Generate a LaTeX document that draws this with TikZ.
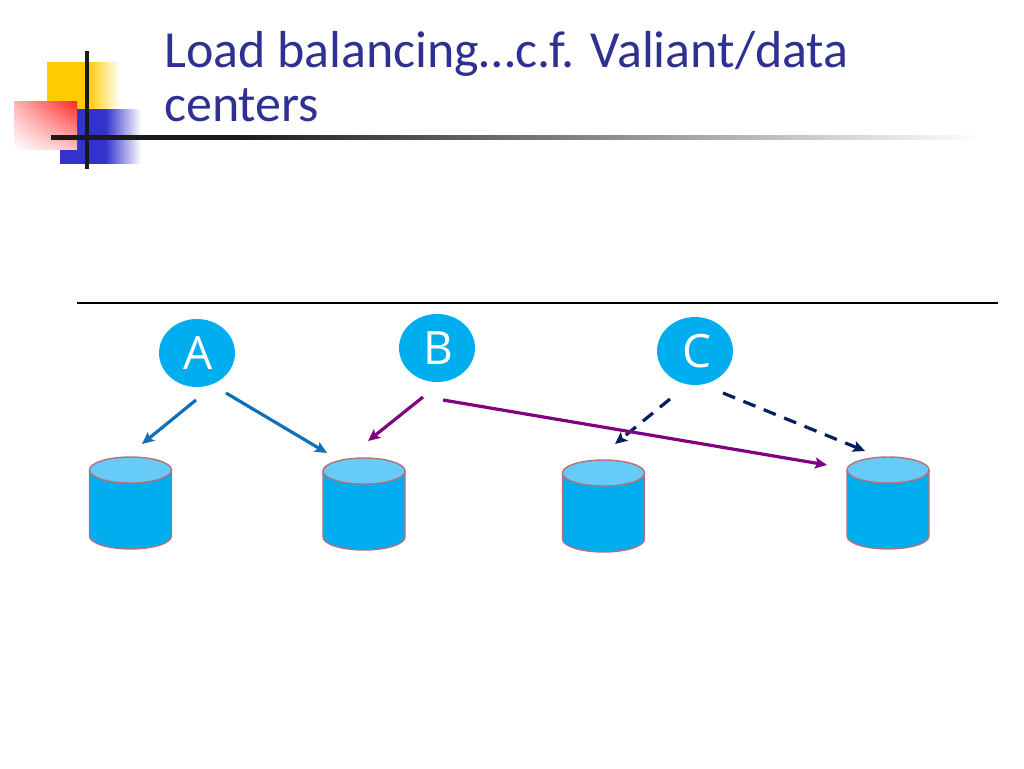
\documentclass[tikz,border=0pt]{standalone}
\usepackage{fontspec}
\setmainfont{Open Sans}
\newfontfamily\titlefont{Carlito}
\usetikzlibrary{arrows.meta,shadings}
\definecolor{titleblue}{HTML}{2E3192}
\definecolor{sky}{HTML}{00AEEF}
\definecolor{skytop}{HTML}{66CCF7}
\definecolor{rim}{HTML}{B5707E}
\definecolor{flowblue}{HTML}{0F6FB7}
\definecolor{flowpurple}{HTML}{800080}
\definecolor{flownavy}{HTML}{002060}
\definecolor{barblue}{HTML}{3333CC}
\definecolor{baryellow}{HTML}{FFCC00}
\definecolor{bardark}{HTML}{1A1A1A}
\pgfdeclarehorizontalshading{bluefade}{100bp}{color(0bp)=(barblue);color(53bp)=(barblue);color(75bp)=(white);color(100bp)=(white)}
\pgfdeclarehorizontalshading{yellowfade}{100bp}{color(0bp)=(baryellow);color(53bp)=(baryellow);color(75bp)=(white);color(100bp)=(white)}
\pgfdeclarehorizontalshading{rulefade}{100bp}{color(0bp)=(bardark);color(35bp)=(bardark);color(75bp)=(white);color(100bp)=(white)}
\tikzset{
  x=1pt,y=-1pt,
  titletext/.style={anchor=base west,inner sep=0pt,text=titleblue,font=\titlefont\fontsize{52}{52}\selectfont},
  client/.style={ellipse,fill=sky,minimum width=76pt,minimum height=68pt,inner sep=0pt,text=white,font=\fontsize{46}{46}\selectfont},
  flow/.style={line width=3.2pt,-{Stealth[length=12pt,width=11pt,inset=2.5pt]}},
  flowdash/.style={flow,color=flownavy,dash pattern=on 13pt off 9pt},
  storeline/.style={draw=rim,line width=1.4pt},
  storeanchor/.style={inner sep=0pt,minimum width=82pt,minimum height=92pt},
}
\usetikzlibrary{shapes.geometric}
% name, centre x, top y
\newcommand{\dbstore}[3]{%
  \node[storeanchor] (#1) at (#2,#3+46) {};
  \begin{scope}[shift={(#2,#3)}]
    \path[storeline,fill=sky] (-41,13) -- (-41,79)
      .. controls (-41,86.2) and (-22.6,92) .. (0,92)
      .. controls (22.6,92) and (41,86.2) .. (41,79) -- (41,13) -- cycle;
    \path[storeline,fill=skytop] (0,13) ellipse [x radius=41,y radius=13];
  \end{scope}%
}
\begin{document}
\begin{tikzpicture}
\useasboundingbox (0,0) rectangle (1024,768);
\shade[shading=yellowfade] (47,62) rectangle (120,110);
\shade[shading=bluefade] (60,109) rectangle (141,163);
\shade[upper right=red!85!white,upper left=red!30!white,lower left=white,lower right=red!25!white] (14,101) rectangle (77,149);
\shade[shading=rulefade] (51,135) rectangle (980,139);
\fill[bardark] (85.2,51) rectangle (88.8,169);
\node[titletext] (t1) at (164,67) {Load balancing…c.f. Valiant/data};
\node[titletext] (t2) at (164,121) {centers};
\coordinate (ruleL) at (77,302.5);
\coordinate (ruleR) at (998,302.5);
\draw[line width=2pt,black] (ruleL) -- (ruleR);
\node[client] (A) at (197,353) {\hspace{3pt}A};
\node[client] (B) at (437,348) {\hspace{3pt}B};
\node[client] (C) at (695,351) {\hspace{3pt}C};
\dbstore{d1}{130.5}{457}
\dbstore{d2}{364}{458}
\dbstore{d3}{603.5}{460}
\dbstore{d4}{888}{457}
\coordinate (a1s) at (196,400); \coordinate (a1e) at (142,444);
\coordinate (a2s) at (226,393); \coordinate (a2e) at (327,453);
\coordinate (b1s) at (423,397); \coordinate (b1e) at (368,441);
\coordinate (b2s) at (443,400); \coordinate (b2e) at (827,465);
\coordinate (c1s) at (670,399); \coordinate (c1e) at (615,444);
\coordinate (c2s) at (723,393); \coordinate (c2e) at (865,451);
\draw[flowdash] (c1s) -- (c1e);
\draw[flowdash] (c2s) -- (c2e);
\draw[flow,flowblue] (a1s) -- (a1e);
\draw[flow,flowblue] (a2s) -- (a2e);
\draw[flow,flowpurple] (b1s) -- (b1e);
\draw[flow,flowpurple] (b2s) -- (b2e);
\end{tikzpicture}
\end{document}
